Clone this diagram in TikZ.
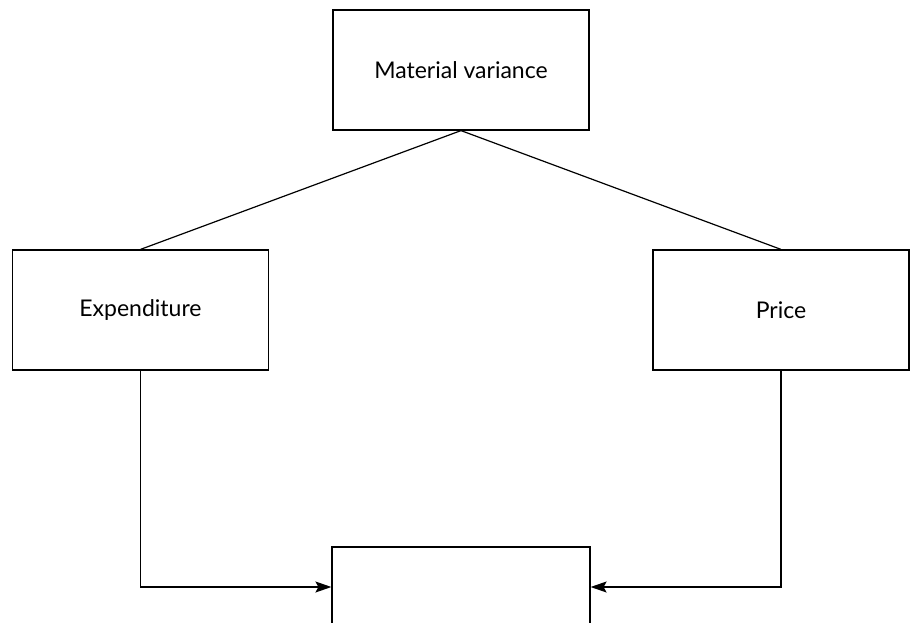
\documentclass[tikz,border=0pt]{standalone}
\usepackage{fontspec}
\setmainfont{Lato}
\usetikzlibrary{arrows.meta}
\tikzset{
  box/.style={draw, line width=1.2pt, minimum width=256pt, minimum height=120pt,
    inner sep=0pt, font=\fontsize{23}{27}\selectfont},
  arr/.style={line width=1.2pt, -{Stealth[length=16pt,width=11pt,inset=3pt]}},
}
\begin{document}
\begin{tikzpicture}[x=1pt,y=-1pt]
      \useasboundingbox (0,0) rectangle (910,623);
      \clip (0,0) rectangle (910,623);
      \draw
        (461,70) node[box] (mat){Material variance}
        (140.5,310) node[box] (exp){Expenditure}
        (781,310) node[box] (price){Price}
        (461,597) node[box, minimum width=258pt, minimum height=100pt] (res){};
      \begin{scope}[line width=1.2pt]
        \draw (mat.south) to (exp.north);
        \draw (mat.south) to (price.north);
      \end{scope}
      \draw[arr] (exp.south) |- ([yshift=10pt]res.west);
      \draw[arr] (price.south) |- ([yshift=10pt]res.east);
    \end{tikzpicture}
\end{document}
